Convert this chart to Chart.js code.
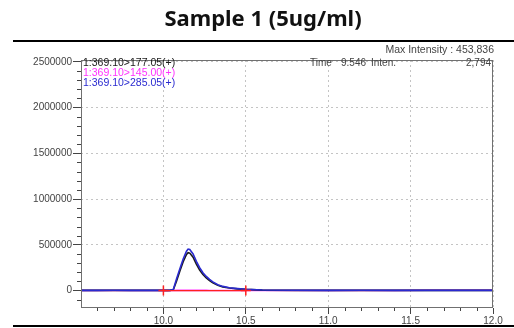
<!DOCTYPE html>
<html>
<head>
<meta charset="utf-8">
<script src="https://cdn.jsdelivr.net/npm/chart.js@4.4.1/dist/chart.umd.min.js"></script>
<style>
  html, body { margin: 0; padding: 0; background: #fff; }
  #wrap { width: 514px; height: 328px; }
</style>
</head>
<body>
<div id="wrap"><canvas id="chrom" width="514" height="328"></canvas></div>
<script>
// retention time (min)
const times = [9.50, 9.60, 9.70, 9.80, 9.90, 10.00, 10.04, 10.06, 10.08, 10.10, 10.12, 10.14, 10.15, 10.16,
  10.18, 10.20, 10.22, 10.24, 10.26, 10.28, 10.30, 10.33, 10.36, 10.40, 10.45, 10.50, 10.60, 10.80,
  11.00, 11.20, 11.40, 11.60, 11.80, 12.00];

// MRM transitions
const ion177 = [2600, 2200, 3000, 2400, 2700, 2300, 2500, 8000, 105000, 215000, 315000, 395000, 415000, 410000,
  365000, 290000, 225000, 175000, 138000, 108000, 84000, 58000, 41000, 28000, 19000, 13000, 5000, 3000,
  2700, 2900, 2500, 2600, 2400, 2600];
const ion145 = [1800, 1600, 2000, 1700, 1900, 1700, 1800, 1900, 2100, 2300, 2500, 2600, 2600, 2600,
  2500, 2400, 2300, 2200, 2100, 2000, 2000, 1900, 1900, 1800, 1800, 1800, 1800, 1800,
  1800, 1900, 1700, 3500, 3400, 3600];
const ion285 = [3000, 2500, 3500, 2800, 3000, 2600, 3000, 12000, 130000, 240000, 345000, 430000, 453836, 450000,
  400000, 320000, 250000, 195000, 155000, 122000, 95000, 65000, 46000, 31000, 22000, 15000, 6000, 3500,
  3000, 3200, 2800, 3000, 2600, 2900];

// integration baseline
const baseX = [10.0, 10.5];
const baseY = [0, 0];

const traceNames = ["1:369.10>177.05(+)", "1:369.10>145.00(+)", "1:369.10>285.05(+)"];
const traceColors = ["#1a1a1a", "#ff33ff", "#2a2ad0"];

const yTickLabels = [0, 500000, 1000000, 1500000, 2000000, 2500000];
const xTickLabels = [10.0, 10.5, 11.0, 11.5, 12.0];

function toPoints(xs, ys) {
  return xs.map((x, i) => ({ x: x, y: ys[i] }));
}

const labelFont = "Liberation Sans, Arial, sans-serif";

const overlay = {
  id: "overlay",
  beforeDraw(chart) {
    const ctx = chart.ctx;
    const a = chart.chartArea;
    ctx.save();
    ctx.fillStyle = "#fff";
    ctx.fillRect(a.left, a.top, a.right - a.left, a.bottom - a.top);
    ctx.restore();
  },
  afterDraw(chart) {
    const ctx = chart.ctx;
    const a = chart.chartArea;
    const xs = chart.scales.x;
    const ys = chart.scales.y;
    ctx.save();

    // frame of the plot
    ctx.strokeStyle = "#707070";
    ctx.lineWidth = 1;
    ctx.strokeRect(a.left + 0.5, a.top + 0.5, a.right - a.left - 1, a.bottom - a.top - 1);

    // minor ticks
    ctx.strokeStyle = "#444";
    ctx.beginPath();
    for (let v = -100000; v <= 2500000; v += 100000) {
      if (v % 500000 === 0) continue;
      const py = Math.round(ys.getPixelForValue(v)) + 0.5;
      ctx.moveTo(a.left - 4, py);
      ctx.lineTo(a.left, py);
    }
    for (let k = 96; k <= 120; k++) {
      if (k % 5 === 0) continue;
      const px = Math.round(xs.getPixelForValue(k / 10)) + 0.5;
      ctx.moveTo(px, a.bottom);
      ctx.lineTo(px, a.bottom + 3);
    }
    ctx.stroke();

    // heavy rules above and below the panel
    ctx.fillStyle = "#000";
    ctx.fillRect(13, 40, 501, 2);
    ctx.fillRect(13, 325, 501, 2);

    // title
    ctx.fillStyle = "#111";
    ctx.textAlign = "center";
    ctx.textBaseline = "middle";
    ctx.font = "bold 22px Noto Sans, sans-serif";
    ctx.fillText("Sample 1 (5ug/ml)", 263, 20);

    // header texts
    ctx.font = "10.5px " + labelFont;
    ctx.fillStyle = "#444";
    ctx.textAlign = "right";
    ctx.fillText("Max Intensity : 453,836", 494, 50);
    ctx.font = "10px " + labelFont;
    ctx.fillText("2,794", 491, 63);
    ctx.textAlign = "left";
    ctx.fillText("Time", 310, 63);
    ctx.fillText("9.546", 341, 63);
    ctx.fillText("Inten.", 371, 63);

    ctx.font = "10.5px " + labelFont;
    traceNames.forEach((name, i) => {
      ctx.fillStyle = traceColors[i];
      ctx.fillText(name, a.left + 2, 63 + i * 10);
    });
    ctx.restore();
  }
};

new Chart(document.getElementById("chrom"), {
  type: "line",
  data: {
    datasets: [
      {
        label: "baseline",
        data: toPoints(baseX, baseY),
        borderColor: "#ff2020",
        borderWidth: 1.2,
        pointStyle: "cross",
        pointRadius: 5,
        pointBorderColor: "#ff2020",
        pointBorderWidth: 1.5,
      },
      {
        label: traceNames[2],
        data: toPoints(times, ion285),
        borderColor: traceColors[2],
        borderWidth: 1.6,
        pointRadius: 0,
      },
      {
        label: traceNames[0],
        data: toPoints(times, ion177),
        borderColor: traceColors[0],
        borderWidth: 1.6,
        pointRadius: 0,
      },
      {
        label: traceNames[1],
        data: toPoints(times, ion145),
        borderColor: traceColors[1],
        borderWidth: 1.6,
        pointRadius: 0,
      },
    ],
  },
  options: {
    responsive: false,
    animation: false,
    layout: { padding: { left: 0, right: 21, top: 60, bottom: 0 } },
    plugins: {
      legend: { display: false },
      tooltip: { enabled: false },
      title: { display: false },
    },
    scales: {
      x: {
        type: "linear",
        min: 9.5,
        max: 12.0,
        afterFit(scale) { scale.height = 20; },
        afterBuildTicks(scale) {
          scale.ticks = xTickLabels.map((v) => ({ value: v }));
        },
        ticks: {
          color: "#444",
          font: { family: labelFont, size: 10 },
          padding: 1,
          maxRotation: 0,
          callback: (v) => Number(v).toFixed(1),
        },
        grid: { color: "#c4c4c4", tickColor: "#444", tickLength: 6 },
        border: { display: false, dash: [2, 3] },
      },
      y: {
        min: -190000,
        max: 2520000,
        afterFit(scale) { scale.width = 81; },
        afterBuildTicks(scale) {
          scale.ticks = yTickLabels.map((v) => ({ value: v }));
        },
        ticks: {
          color: "#444",
          font: { family: labelFont, size: 10 },
          padding: 1,
          callback: (v) => String(v),
        },
        grid: { color: "#c4c4c4", tickColor: "#444", tickLength: 8 },
        border: { display: false, dash: [2, 3] },
      },
    },
  },
  plugins: [overlay],
});
</script>
</body>
</html>
